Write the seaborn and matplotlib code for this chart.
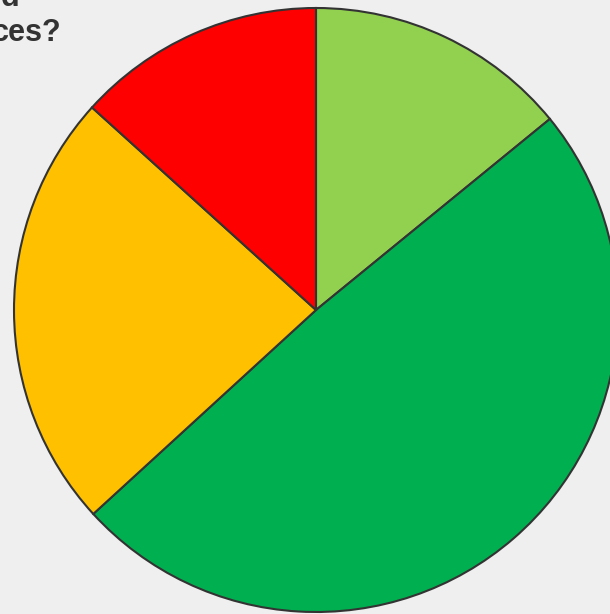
import matplotlib
matplotlib.use("Agg")
import matplotlib.pyplot as plt
import seaborn as sns

# slice shares (clockwise from 12 o'clock)
categories = ["Somewhat", "Yes", "Not sure", "No"]
shares = [14.1, 49.1, 23.5, 13.3]
colors = ["#92d050", "#00b050", "#ffc000", "#ff0000"]

sns.set_theme(style="white")
plt.rcParams["font.family"] = ["Liberation Sans", "DejaVu Sans"]

fig = plt.figure(figsize=(6.10, 6.14), dpi=100, facecolor="#efefef")
# pie is bigger than the canvas on the right, so the axes runs off the edge
ax = fig.add_axes([14 / 610, 2 / 614, 604 / 610, 604 / 614])
ax.set_facecolor("#efefef")

ax.pie(shares, colors=colors, startangle=90, counterclock=False,
       radius=1.0, labels=None,
       wedgeprops={"edgecolor": "#333333", "linewidth": 1.5})
ax.set_xlim(-1, 1)
ax.set_ylim(-1, 1)
ax.set_aspect("equal")
ax.axis("off")

# title is cut off by the canvas in the reference
fig.text(20 / 610, 1 - 6 / 614, "d", ha="right", va="baseline",
         fontsize=22, fontweight="bold", color="#333333")
fig.text(61 / 610, 1 - 41 / 614, "ces?", ha="right", va="baseline",
         fontsize=22, fontweight="bold", color="#333333")

plt.savefig("out.png", dpi=100, facecolor=fig.get_facecolor())
